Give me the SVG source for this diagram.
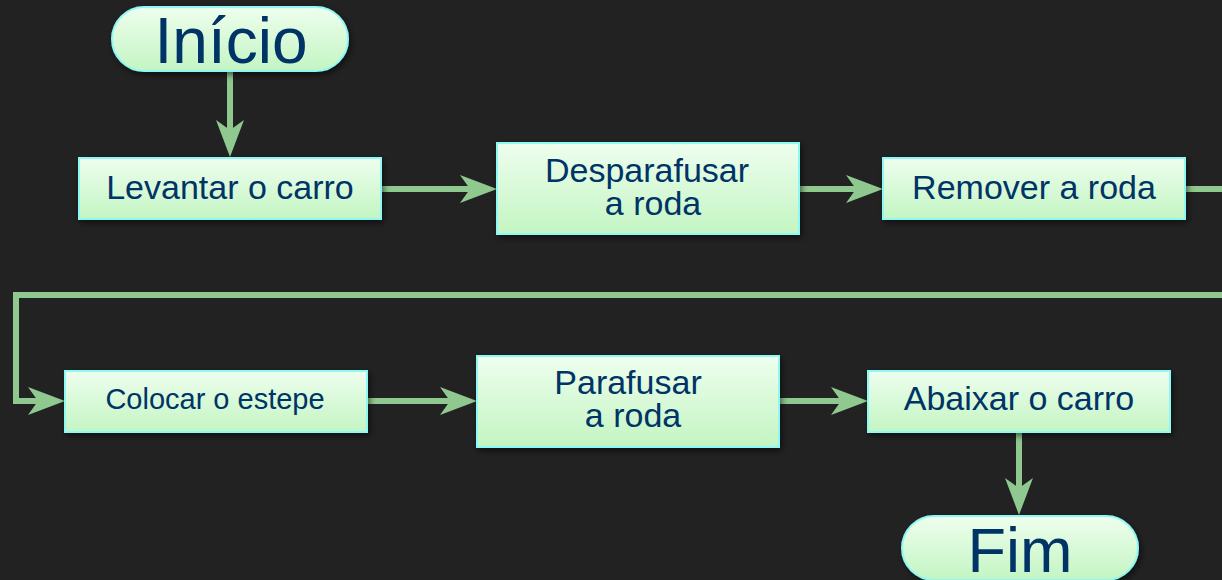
<svg xmlns="http://www.w3.org/2000/svg" width="1222" height="580" viewBox="0 0 1222 580">
<defs>
<linearGradient id="g" x1="0" y1="0" x2="0" y2="1">
<stop offset="0" stop-color="#eefeee"/>
<stop offset="1" stop-color="#c3f5c3"/>
</linearGradient>
<filter id="sh" x="-10%" y="-20%" width="130%" height="160%">
<feDropShadow dx="2" dy="3" stdDeviation="3" flood-color="#000" flood-opacity="0.55"/>
</filter>
<marker id="ah" markerUnits="userSpaceOnUse" viewBox="0 0 37 28" refX="17" refY="14" markerWidth="37" markerHeight="28" orient="auto">
<path d="M0,0 L37,14 L0,28 L10,14 Z" fill="#8fc98f"/>
</marker>
<style>
.n{fill:url(#g);stroke:#8ef8f4;stroke-width:2;filter:url(#sh)}
.t{font-family:"Liberation Sans",Arial,sans-serif;fill:#003366;text-anchor:middle}
.c{fill:none;stroke:#8fc98f;stroke-width:6}
</style>
</defs>
<rect width="1222" height="580" fill="#222222"/>
<g id="connectors">
<path class="c" d="M230,71 V137" marker-end="url(#ah)"/>
<path class="c" d="M381,189 H477" marker-end="url(#ah)"/>
<path class="c" d="M799,189 H863" marker-end="url(#ah)"/>
<path class="c" d="M1185,189 H1232 V295 H16 V401 H45" marker-end="url(#ah)"/>
<path class="c" d="M367,401 H457" marker-end="url(#ah)"/>
<path class="c" d="M779,401 H848" marker-end="url(#ah)"/>
<path class="c" d="M1019,432 V495" marker-end="url(#ah)"/>
</g>
<g id="inicio">
<rect class="n" x="112" y="7" width="236" height="64" rx="32"/>
<text class="t" x="231" y="63" font-size="64">Início</text>
</g>
<g id="levantar">
<rect class="n" x="79" y="158" width="302" height="61"/>
<text class="t" x="230" y="199" font-size="34">Levantar o carro</text>
</g>
<g id="desparafusar">
<rect class="n" x="497" y="143" width="302" height="91"/>
<text class="t" font-size="34"><tspan x="647" y="182">Desparafusar</tspan><tspan x="653" y="215">a roda</tspan></text>
</g>
<g id="remover">
<rect class="n" x="883" y="158" width="302" height="61"/>
<text class="t" x="1034" y="199" font-size="34">Remover a roda</text>
</g>
<g id="colocar">
<rect class="n" x="65" y="371" width="302" height="61"/>
<text class="t" x="215" y="409" font-size="29">Colocar o estepe</text>
</g>
<g id="parafusar">
<rect class="n" x="477" y="356" width="302" height="91"/>
<text class="t" font-size="34"><tspan x="628" y="394">Parafusar</tspan><tspan x="633" y="427">a roda</tspan></text>
</g>
<g id="abaixar">
<rect class="n" x="868" y="371" width="302" height="61"/>
<text class="t" x="1019" y="410" font-size="34">Abaixar o carro</text>
</g>
<g id="fim">
<rect class="n" x="902" y="516" width="236" height="64" rx="32"/>
<text class="t" x="1020" y="572" font-size="63">Fim</text>
</g>
</svg>
